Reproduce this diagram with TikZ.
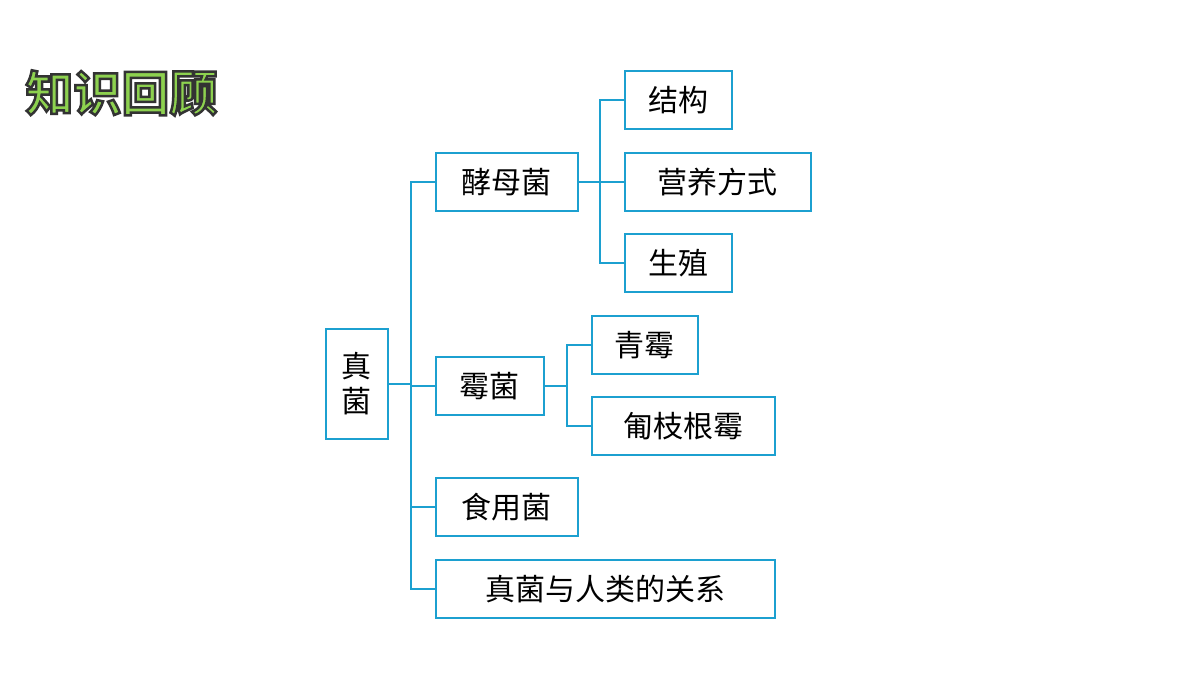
\documentclass[tikz,border=0pt]{standalone}
\usepackage{fontspec}
\newfontfamily\cjk{Noto Sans CJK SC}
\newfontfamily\cjkb{Noto Sans CJK SC}[BoldFont={* Bold}]
\definecolor{bl}{HTML}{1CA0D0}
\definecolor{tg}{HTML}{8DD14F}
\begin{document}
\begin{tikzpicture}[x=1pt,y=-1pt,
 bx/.style={draw=bl,line width=1.5pt,inner sep=0pt,font=\cjk\fontsize{30}{32}\selectfont,anchor=north west},
 ln/.style={draw=bl,line width=1.5pt}]
\useasboundingbox (0,0) rectangle (1200,675);
\newcommand{\bxat}[6]{\node[bx,minimum width=#4-#2,minimum height=#5-#3] (#1) at (#2,#3) {#6};}
\bxat{zj}{325}{328}{387}{438}{\shortstack{真\\[4pt]菌}}
\bxat{jm}{435}{152}{577}{210}{酵母菌}
\bxat{jg}{624}{70}{731}{128}{结构}
\bxat{yy}{624}{152}{810}{210}{营养方式}
\bxat{sz}{624}{233}{731}{291}{生殖}
\bxat{mj}{435}{356}{543}{414}{霉菌}
\bxat{qm}{591}{315}{697}{373}{青霉}
\bxat{pz}{591}{396}{774}{454}{匍枝根霉}
\bxat{sy}{435}{477}{577}{535}{食用菌}
\bxat{rl}{435}{559}{774}{617}{真菌与人类的关系}
\coordinate (a) at (zj.east -| 411,0);
\coordinate (b) at (jm.east -| 600,0);
\coordinate (c) at (mj.east -| 567,0);
\draw[ln] (zj.east) -- (a);
\foreach \t in {jm,mj,sy,rl} \draw[ln] (a) |- (\t.west);
\draw[ln] (jm.east) -- (b);
\foreach \t in {jg,yy,sz} \draw[ln] (b) |- (\t.west);
\draw[ln] (mj.east) -- (c);
\foreach \t in {qm,pz} \draw[ln] (c) |- (\t.west);
\node[font=\cjkb\bfseries\fontsize{48}{50}\selectfont,text=tg,anchor=west] (t) at (22,93)
 {\special{pdf:literal direct 2 Tr 2.5 w 0.2 0.2 0.2 RG}知识回顾\special{pdf:literal direct 0 Tr}};
\end{tikzpicture}
\end{document}
